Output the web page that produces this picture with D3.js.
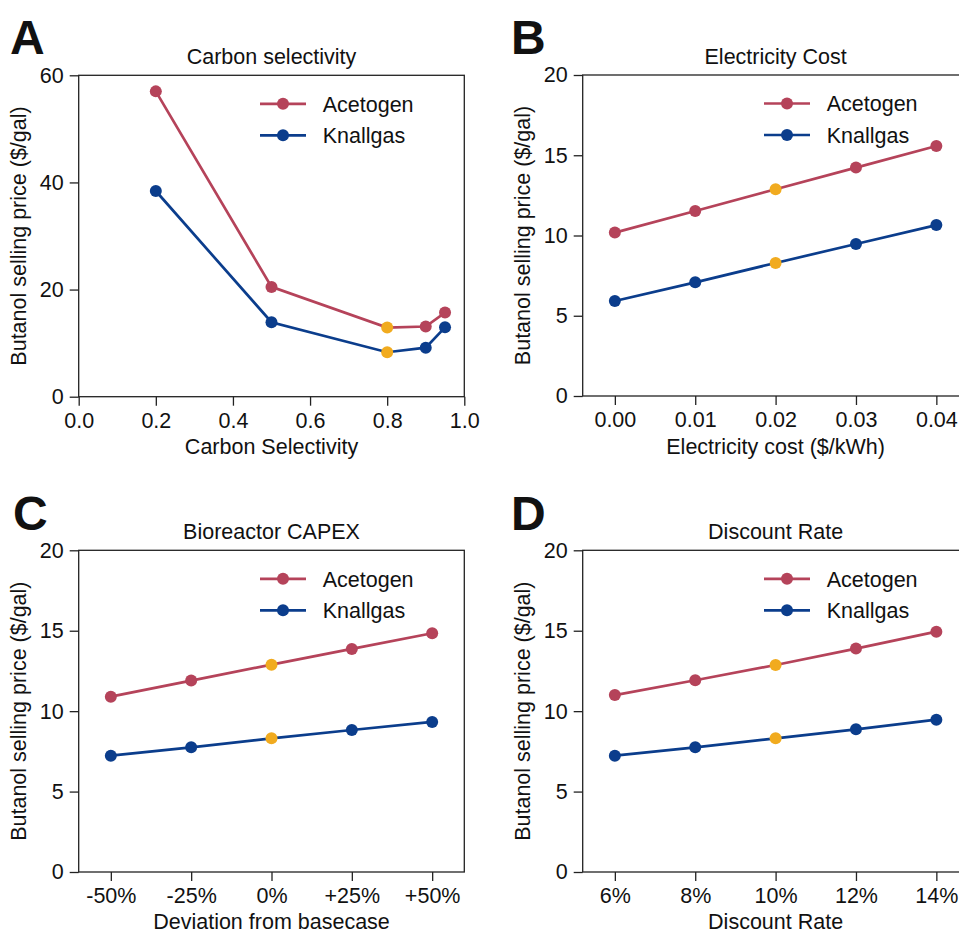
<!DOCTYPE html>
<html>
<head>
<meta charset="utf-8">
<script src="https://cdn.jsdelivr.net/npm/d3@7"></script>
<style>
  html, body { margin: 0; padding: 0; background: #fff; overflow: hidden; }
  svg text { font-family: "Liberation Sans", Arial, sans-serif; fill: #111; }
</style>
</head>
<body>
<svg id="chart" width="959" height="933"></svg>
<script>
// ---- data ----------------------------------------------------------------
const seriesNames = ['Acetogen', 'Knallgas'];

const selectivityX = [0.2, 0.5, 0.8, 0.9, 0.95];
const selectivityAcetogen = [57.0, 20.5, 12.9, 13.1, 15.7];
const selectivityKnallgas = [38.4, 13.9, 8.3, 9.15, 12.95];

const electricityX = [0.00, 0.01, 0.02, 0.03, 0.04];
const electricityAcetogen = [10.18, 11.53, 12.88, 14.23, 15.58];
const electricityKnallgas = [5.92, 7.08, 8.29, 9.47, 10.65];

const capexLabels = ['-50%', '-25%', '0%', '+25%', '+50%'];
const capexAcetogen = [10.9, 11.9, 12.89, 13.87, 14.84];
const capexKnallgas = [7.23, 7.75, 8.31, 8.83, 9.33];

const discountLabels = ['6%', '8%', '10%', '12%', '14%'];
const discountAcetogen = [11.0, 11.92, 12.87, 13.89, 14.94];
const discountKnallgas = [7.23, 7.75, 8.31, 8.87, 9.47];

// index of the base case point (drawn in yellow)
const baseIndex = { A: 2, B: 2, C: 2, D: 2 };

// ---- styling --------------------------------------------------------------
const COLORS = { Acetogen: '#b5435a', Knallgas: '#0b3d8c', base: '#f1ab1f' };
const FS = 21.5;
const INK = '#222';

const svg = d3.select('#chart');

const panels = [
    { id: 'A', title: 'Carbon selectivity', xLabel: 'Carbon Selectivity',
      box: { left: 78.7, right: 464.3, top: 75.3, bottom: 396.7 },
      letter: { x: 10, y: 54 },
      kind: 'linear', xDomain: [0, 1], xTicks: [0, 0.2, 0.4, 0.6, 0.8, 1.0], xFormat: d3.format('.1f'),
      xs: selectivityX, yMax: 60, yTicks: [0, 20, 40, 60],
      values: [selectivityAcetogen, selectivityKnallgas] },
    { id: 'B', title: 'Electricity Cost', xLabel: 'Electricity cost ($/kWh)',
      box: { left: 582.7, right: 968.5, top: 75, bottom: 396 },
      letter: { x: 511, y: 54 },
      kind: 'linear', xDomain: [-0.004, 0.044], xTicks: electricityX, xFormat: d3.format('.2f'),
      xs: electricityX, yMax: 20, yTicks: [0, 5, 10, 15, 20],
      values: [electricityAcetogen, electricityKnallgas] },
    { id: 'C', title: 'Bioreactor CAPEX', xLabel: 'Deviation from basecase',
      box: { left: 78.7, right: 464.3, top: 550.3, bottom: 872 },
      letter: { x: 13, y: 530 },
      kind: 'point', xs: capexLabels, yMax: 20, yTicks: [0, 5, 10, 15, 20],
      values: [capexAcetogen, capexKnallgas] },
    { id: 'D', title: 'Discount Rate', xLabel: 'Discount Rate',
      box: { left: 582.7, right: 968.5, top: 550.3, bottom: 872 },
      letter: { x: 511, y: 529.5 },
      kind: 'point', xs: discountLabels, yMax: 20, yTicks: [0, 5, 10, 15, 20],
      values: [discountAcetogen, discountKnallgas] },
];

panels.forEach(drawPanel);

function drawPanel(p) {
    const b = p.box;
    const width = b.right - b.left;
    const height = b.bottom - b.top;
    const g = svg.append('g').attr('transform', `translate(${b.left},${b.top})`);

    let x;
    if (p.kind === 'point') {
        x = d3.scalePoint().domain(p.xs).range([0, width]).padding(0.4);
    } else {
        x = d3.scaleLinear().domain(p.xDomain).range([0, width]);
    }
    const y = d3.scaleLinear().domain([0, p.yMax]).range([height, 0]);

    // Axes
    const xAxis = p.kind === 'point'
        ? d3.axisBottom(x).tickSizeOuter(0).tickSize(9).tickPadding(7)
        : d3.axisBottom(x).tickValues(p.xTicks).tickFormat(p.xFormat).tickSizeOuter(0).tickSize(9).tickPadding(7);
    g.append('g')
        .attr('transform', `translate(0,${height})`)
        .call(xAxis)
        .call(ax => ax.select('.domain').remove())
        .call(ax => ax.selectAll('.tick line').attr('stroke', INK).attr('stroke-width', 1.3))
        .call(ax => ax.selectAll('.tick text').attr('font-size', FS).attr('fill', '#111')
            .attr('font-family', '"Liberation Sans", Arial, sans-serif'));

    g.append('g')
        .call(d3.axisLeft(y).tickValues(p.yTicks).tickFormat(d3.format('d')).tickSizeOuter(0).tickSize(9).tickPadding(6))
        .call(ax => ax.select('.domain').remove())
        .call(ax => ax.selectAll('.tick line').attr('stroke', INK).attr('stroke-width', 1.3))
        .call(ax => ax.selectAll('.tick text').attr('font-size', FS).attr('fill', '#111')
            .attr('font-family', '"Liberation Sans", Arial, sans-serif'));

    // Frame (all four spines)
    g.append('rect')
        .attr('width', width).attr('height', height)
        .attr('fill', 'none').attr('stroke', INK).attr('stroke-width', 1.3);

    // Series lines + dots
    p.values.forEach((vals, si) => {
        const name = seriesNames[si];
        const pts = vals.map((v, i) => ({ x: p.xs[i], v, i }));
        const line = d3.line().x(d => x(d.x)).y(d => y(d.v));
        g.append('path')
            .datum(pts)
            .attr('fill', 'none')
            .attr('stroke', COLORS[name])
            .attr('stroke-width', 2.7)
            .attr('d', line);
        g.selectAll(`.dot-${si}`)
            .data(pts)
            .enter()
            .append('circle')
            .attr('cx', d => x(d.x))
            .attr('cy', d => y(d.v))
            .attr('r', 6)
            .attr('fill', d => d.i === baseIndex[p.id] ? COLORS.base : COLORS[name]);
    });

    // Legend
    const lg = g.append('g');
    seriesNames.forEach((name, i) => {
        const ly = 28.5 + i * 31.5;
        lg.append('line')
            .attr('x1', 181.3).attr('x2', 227.3).attr('y1', ly).attr('y2', ly)
            .attr('stroke', COLORS[name]).attr('stroke-width', 2.7);
        lg.append('circle').attr('cx', 204.3).attr('cy', ly).attr('r', 6).attr('fill', COLORS[name]);
        lg.append('text').attr('x', 244).attr('y', ly).attr('dy', '0.36em')
            .attr('font-size', FS).text(name);
    });

    // Title, axis labels
    g.append('text')
        .attr('x', width / 2).attr('y', -11)
        .attr('text-anchor', 'middle').attr('font-size', FS)
        .text(p.title);
    g.append('text')
        .attr('x', width / 2).attr('y', height + 57.5)
        .attr('text-anchor', 'middle').attr('font-size', FS)
        .text(p.xLabel);
    g.append('text')
        .attr('transform', `translate(-52.5,${height / 2}) rotate(-90)`)
        .attr('text-anchor', 'middle').attr('font-size', FS)
        .text('Butanol selling price ($/gal)');

    // Panel letter
    svg.append('text')
        .attr('x', p.letter.x).attr('y', p.letter.y)
        .attr('font-size', 48).attr('font-weight', 'bold')
        .attr('fill', '#000')
        .text(p.id);
}
</script>
</body>
</html>
